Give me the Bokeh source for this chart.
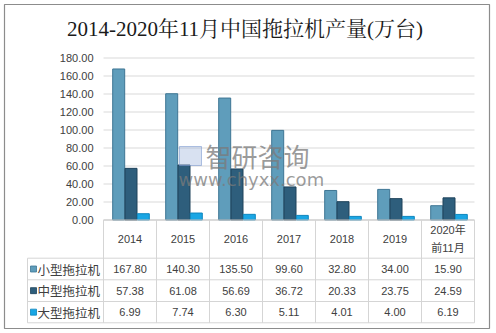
from bokeh.plotting import figure
from bokeh.models import Range1d
from bokeh.core.properties import value
from bokeh.embed import file_html
from bokeh.resources import INLINE

# ---------------- data ----------------
title = "2014-2020年11月中国拖拉机产量(万台)"
categories = ["2014", "2015", "2016", "2017", "2018", "2019", "2020年\n前11月"]
series_names = ["小型拖拉机", "中型拖拉机", "大型拖拉机"]
small = [167.80, 140.30, 135.50, 99.60, 32.80, 34.00, 15.90]
medium = [57.38, 61.08, 56.69, 36.72, 20.33, 23.75, 24.59]
large = [6.99, 7.74, 6.30, 5.11, 4.01, 4.00, 6.19]
y_ticks = [0, 20, 40, 60, 80, 100, 120, 140, 160, 180]
watermark_cn = "智研咨询"
watermark_url = "www.chyxx.com"

series = [small, medium, large]
fills = ["#5F9DBB", "#2E5E7C", "#1AA6E4"]
lines = ["#3E7694", "#1E435B", "#0E86BE"]

# ---------------- layout helpers (pixel -> data) ----------------
W, H = 496, 333
PLOT_L, COLW = 103, 53          # left of plot area, column width (px)
BASE_Y, PX_PER_UNIT = 219.5, 0.9


def dx(px):
    return (px - PLOT_L) / COLW


def dy(py):
    return (BASE_Y - py) / PX_PER_UNIT


p = figure(width=W, height=H, output_backend="svg", toolbar_location=None,
           x_range=Range1d(dx(0), dx(W)), y_range=Range1d(dy(H), dy(0)),
           min_border=0, min_border_left=0, min_border_right=0,
           min_border_top=0, min_border_bottom=0)
p.axis.visible = False
p.grid.visible = False
p.outline_line_color = None
p.background_fill_color = "white"
p.border_fill_color = "white"

n = len(categories)
ncol_right = dx(PLOT_L + COLW * n)

# outer border
p.quad(left=[dx(4)], right=[dx(489)], bottom=[dy(328)], top=[dy(4)],
       fill_color=None, line_color="#8C8C8C", line_width=1.2)

# gridlines
p.segment(x0=[0] * len(y_ticks), x1=[ncol_right] * len(y_ticks),
          y0=y_ticks, y1=y_ticks, line_color="#D9D9D9", line_width=1)

# y tick labels
p.text(x=[dx(93)] * len(y_ticks), y=y_ticks,
       text=["%.2f" % t for t in y_ticks],
       text_font=value("Liberation Sans"), text_font_size="11px",
       text_color="#404040", text_align="right", text_baseline="middle")

# bars
bar_w = 12.0 / COLW
off = 12.3 / COLW
for k, vals in enumerate(series):
    xs = [i + 0.5 + 1.0 / COLW + (k - 1) * off for i in range(n)]
    p.vbar(x=xs, top=vals, bottom=0, width=bar_w,
           fill_color=fills[k], line_color=lines[k], line_width=1)

# ---------------- data table ----------------
row_edges_px = [257.7, 279.3, 301.0, 322.3]
label_left_px = 27
tcol = "#D5D5D5"
# axis / table top line
p.segment(x0=[0], x1=[ncol_right], y0=[0], y1=[0], line_color="#C8C8C8", line_width=1)
# vertical column lines
p.segment(x0=list(range(n + 1)), x1=list(range(n + 1)),
          y0=[0] * (n + 1), y1=[dy(row_edges_px[-1])] * (n + 1),
          line_color=tcol, line_width=1)
# left border of label column
p.segment(x0=[dx(label_left_px)], x1=[dx(label_left_px)],
          y0=[dy(row_edges_px[0])], y1=[dy(row_edges_px[-1])],
          line_color=tcol, line_width=1)
# horizontal lines
p.segment(x0=[dx(label_left_px)] * 4, x1=[ncol_right] * 4,
          y0=[dy(r) for r in row_edges_px], y1=[dy(r) for r in row_edges_px],
          line_color=tcol, line_width=1)

# header row
hx, hy, ht = [], [], []
header_mid = (BASE_Y + row_edges_px[0]) / 2
for i, c in enumerate(categories):
    parts = c.split("\n")
    m = len(parts)
    for j, part in enumerate(parts):
        hx.append(i + 0.5)
        hy.append(dy(header_mid + (j - (m - 1) / 2) * 18))
        ht.append(part)
p.text(x=hx, y=hy, text=ht, text_font=value("Liberation Sans, Noto Sans CJK SC"),
       text_font_size="11px", text_color="#404040",
       text_align="center", text_baseline="middle")

# value rows
for k, vals in enumerate(series):
    cy = dy((row_edges_px[k] + row_edges_px[k + 1]) / 2)
    p.text(x=[i + 0.5 for i in range(n)], y=[cy] * n,
           text=["%.2f" % v for v in vals],
           text_font=value("Liberation Sans"), text_font_size="11px",
           text_color="#404040", text_align="center", text_baseline="middle")
    p.scatter(x=[dx(33)], y=[cy], marker="square", size=6,
              fill_color=fills[k], line_color=lines[k], line_width=0.8)
    p.text(x=[dx(37)], y=[cy], text=[series_names[k]],
           text_font=value("Noto Sans CJK SC"), text_font_size="12.5px",
           text_color="#404040", text_align="left", text_baseline="middle")

# watermark
p.text(x=[dx(205)], y=[dy(155)], text=[watermark_cn],
       text_font=value("Noto Sans CJK SC"), text_font_size="26px",
       text_color="#7A7A7A", text_alpha=0.75, text_align="left", text_baseline="middle")
p.text(x=[dx(178)], y=[dy(179)], text=[watermark_url],
       text_font=value("DejaVu Sans"), text_font_size="18px",
       text_color="#7A7A7A", text_alpha=0.75, text_align="left", text_baseline="middle")
p.quad(left=[dx(179)], right=[dx(201)], bottom=[dy(165)], top=[dy(146)],
       fill_color="#8FA8D8", fill_alpha=0.35, line_color="#7F9BD0", line_alpha=0.6)

# title
p.text(x=[dx(244.5)], y=[dy(28)], text=[title],
       text_font=value("Liberation Serif, Noto Serif CJK SC, Noto Sans CJK SC"),
       text_font_size="21px", text_color="#1A1A1A",
       text_align="center", text_baseline="middle")

open("out.html", "w").write(file_html(p, INLINE))
